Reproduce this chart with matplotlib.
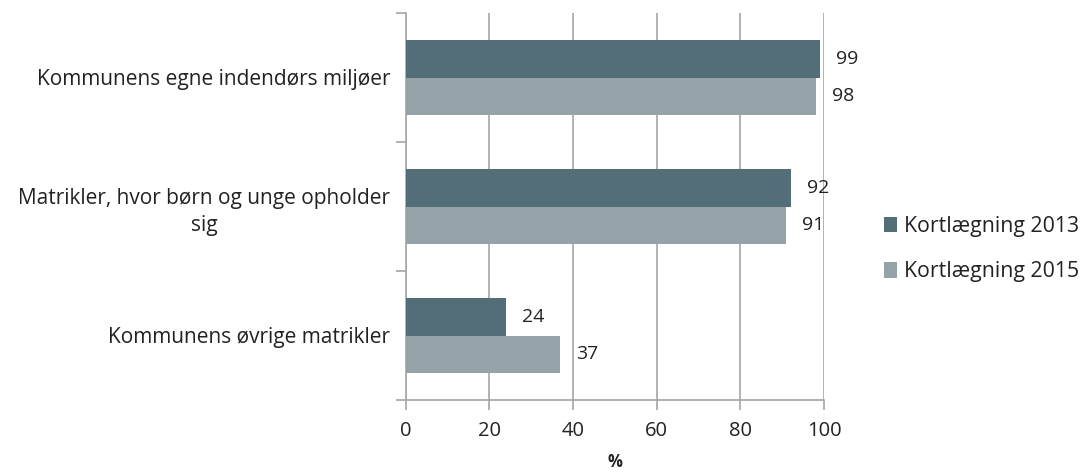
import matplotlib
matplotlib.use("Agg")
import matplotlib.pyplot as plt
import numpy as np

categories = ["Kommunens egne indendørs miljøer",
              "Matrikler, hvor børn og unge opholder\nsig",
              "Kommunens øvrige matrikler"]
series_names = ["Kortlægning 2013", "Kortlægning 2015"]
values_2013 = [99, 92, 24]
values_2015 = [98, 91, 37]
xticks = [0, 20, 40, 60, 80, 100]
xlabel = "%"

plt.rcParams['font.family'] = ['Open Sans', 'DejaVu Sans']

W, H = 1081, 472
fig = plt.figure(figsize=(W / 100, H / 100), dpi=100)
ax = fig.add_axes([405.5 / W, 1 - 400 / H, (824 - 405.5) / W, (400 - 13) / H])

c13 = "#546e79"
c15 = "#95a3a9"
grid_c = "#a6a6a6"
txt_c = "#222222"

n = len(categories)
y = np.arange(n)[::-1].astype(float)  # top category at highest y
h = 0.287
ax.barh(y + h / 2, values_2013, height=h, color=c13, label=series_names[0], zorder=3)
ax.barh(y - h / 2, values_2015, height=h, color=c15, label=series_names[1], zorder=3)

for yi, v in zip(y + h / 2, values_2013):
    ax.annotate(str(v), (v, yi), xytext=(16, 0), textcoords="offset pixels",
                va="center", ha="left", fontsize=14, color=txt_c)
for yi, v in zip(y - h / 2, values_2015):
    ax.annotate(str(v), (v, yi), xytext=(16, 0), textcoords="offset pixels",
                va="center", ha="left", fontsize=14, color=txt_c)

ax.set_xlim(0, 100)
ax.set_ylim(-0.5, n - 0.5)
ax.set_xticks(xticks)
ax.set_xticklabels([str(t) for t in xticks], fontsize=14.5, color=txt_c)
ax.xaxis.grid(True, color=grid_c, linewidth=1.2, zorder=0)
ax.set_axisbelow(True)

# category labels
ax.set_yticks(y)
ax.set_yticklabels(categories, fontsize=15, color=txt_c, multialignment="center",
                   linespacing=1.35)
ax.tick_params(axis="y", length=0, pad=11)
# minor ticks at category boundaries
ax.set_yticks(np.arange(-0.5, n, 1.0), minor=True)
ax.tick_params(axis="y", which="minor", length=7, color=grid_c, width=1.2, direction="out")
ax.tick_params(axis="x", length=7, color=grid_c, width=1.2, direction="out", pad=8)

for s in ["top", "right"]:
    ax.spines[s].set_visible(False)
for s in ["left", "bottom"]:
    ax.spines[s].set_color(grid_c)
    ax.spines[s].set_linewidth(1.2)

ax.set_xlabel(xlabel, fontsize=12, fontweight="bold", color=txt_c, labelpad=9)

leg = fig.legend(loc="center left", bbox_to_anchor=(884 / W, 1 - 249 / H), frameon=False,
                 fontsize=15.3, handlelength=0.62, handleheight=0.75, handletextpad=0.3,
                 labelspacing=1.15, borderaxespad=0, borderpad=0)
for t in leg.get_texts():
    t.set_color(txt_c)

fig.savefig("out.png", dpi=100)
